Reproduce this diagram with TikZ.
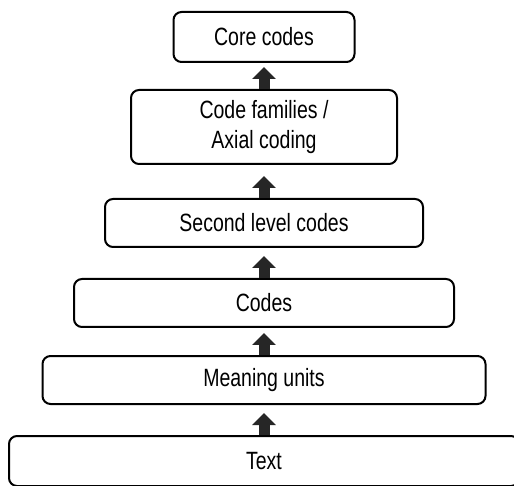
\documentclass[tikz,border=0pt]{standalone}
\usepackage{fontspec}
\setmainfont{Liberation Sans}[FakeStretch=0.78]
\usetikzlibrary{arrows.meta, positioning}

\begin{document}
\begin{tikzpicture}[
            x = 1pt, y = 1pt,
            node distance = 30pt,
            line width = 2pt,
            font = \fontsize{25}{30}\selectfont
        ]

        \tikzstyle{codebox}=[
            draw = black,
            rounded corners = 8pt,
            align = center,
            minimum height = 48pt,
            inner sep = 0pt
        ]
        \tikzset{uparrow/.style={-{Triangle[width=23pt, length=12pt]}, line width=11pt, draw=black!85}}

        \useasboundingbox (0,0) rectangle (514,485);
        \clip (0,0) rectangle (514,485);

        \node[codebox, minimum width=510pt, minimum height=50pt] (txt) at (264,24) {Text};
        \node[codebox, minimum width=443pt] (mu) [above=30pt of txt] {Meaning units};
        \node[codebox, minimum width=380pt] (codes) [above=27pt of mu] {Codes};
        \node[codebox, minimum width=318pt] (second) [above=30pt of codes] {Second level codes};
        \node[codebox, minimum width=266pt, minimum height=74pt] (fam) [above=33pt of second] {Code families /\\Axial coding};
        \node[codebox, minimum width=181pt, minimum height=50pt] (core) [above=26pt of fam] {Core codes};

        % arrows up the levels
        \draw[uparrow] (txt.north) -- ++(0,22);
        \draw[uparrow] (mu.north) -- ++(0,22);
        \draw[uparrow] (codes.north) -- ++(0,22);
        \draw[uparrow] (second.north) -- ++(0,22);
        \draw[uparrow] (fam.north) -- ++(0,22);

    \end{tikzpicture}
\end{document}
